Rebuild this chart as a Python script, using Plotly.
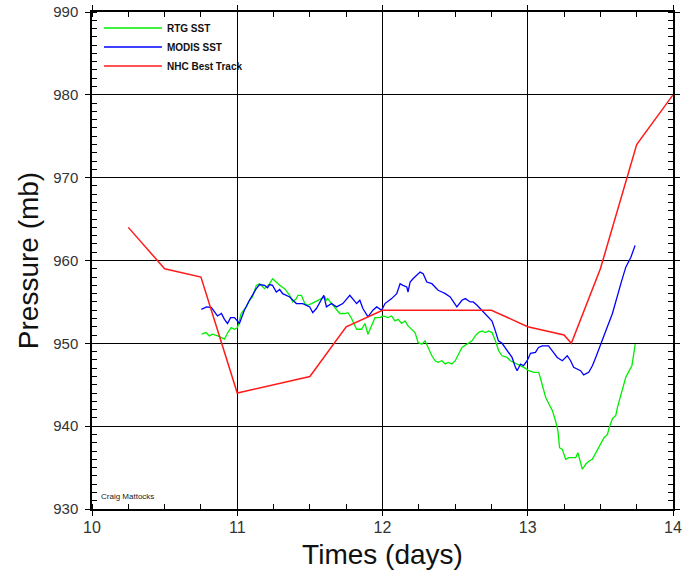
import plotly.graph_objects as go

# NHC Best Track
nhc_t = [10.25, 10.5, 10.75, 11.0, 11.5, 11.75, 12.0, 12.75, 13.0, 13.25, 13.3, 13.5, 13.75, 14.0]
nhc_p = [964, 959, 958, 944, 946, 952, 954, 954, 952, 951, 950, 959, 974, 980]

# MODIS SST
modis_t = [10.753, 10.788, 10.822, 10.843, 10.864, 10.891, 10.912, 10.933, 10.954, 10.981, 11.015, 11.049,
           11.084, 11.131, 11.154, 11.188, 11.209, 11.223, 11.243, 11.269, 11.292, 11.313, 11.361, 11.407,
           11.451, 11.499, 11.520, 11.545, 11.596, 11.614, 11.649, 11.683, 11.727, 11.775, 11.796, 11.822,
           11.844, 11.865, 11.900, 11.934, 11.960, 11.994, 12.017, 12.063, 12.098, 12.121, 12.141, 12.167,
           12.176, 12.190, 12.210, 12.236, 12.259, 12.280, 12.305, 12.340, 12.362, 12.383, 12.409, 12.432,
           12.466, 12.487, 12.512, 12.547, 12.570, 12.604, 12.625, 12.651, 12.685, 12.754, 12.777, 12.798,
           12.823, 12.846, 12.867, 12.892, 12.915, 12.927, 12.950, 12.971, 12.996, 13.019, 13.053, 13.074,
           13.100, 13.143, 13.169, 13.203, 13.238, 13.272, 13.295, 13.316, 13.364, 13.385, 13.420, 13.445,
           13.468, 13.503, 13.537, 13.583, 13.618, 13.641, 13.675, 13.710, 13.739]
modis_p = [954.1, 954.4, 954.3, 953.8, 953.3, 953.6, 952.9, 952.4, 953.1, 953.1, 952.4, 954.0,
           955.2, 956.6, 957.1, 957.0, 956.7, 957.1, 957.0, 956.2, 956.5, 956.0, 955.6, 954.8,
           954.8, 954.4, 953.7, 954.2, 955.8, 954.4, 954.8, 954.4, 954.8, 955.8, 955.4, 954.8,
           955.2, 954.2, 953.2, 954.0, 954.4, 954.0, 954.8, 955.4, 956.0, 957.2, 957.0, 956.8,
           956.2, 957.4, 957.8, 958.2, 958.6, 958.4, 957.4, 957.2, 956.8, 956.4, 956.2, 956.0,
           955.6, 955.0, 954.4, 955.2, 955.4, 955.0, 955.0, 954.6, 954.0, 952.7, 951.5, 950.3,
           950.0, 949.4, 948.8, 948.3, 947.1, 946.7, 947.5, 947.3, 947.9, 948.8, 948.9, 949.5,
           949.7, 949.7, 949.1, 948.3, 947.9, 948.5, 947.9, 947.1, 946.7, 946.2, 946.5, 947.3,
           948.3, 950.0, 951.5, 953.6, 955.6, 957.2, 959.2, 960.4, 961.8]

# RTG SST
rtg_t = [10.755, 10.785, 10.808, 10.829, 10.866, 10.889, 10.912, 10.935, 10.958, 10.981, 11.002, 11.027,
         11.062, 11.085, 11.105, 11.131, 11.154, 11.188, 11.223, 11.243, 11.269, 11.292, 11.326, 11.361,
         11.382, 11.407, 11.418, 11.442, 11.465, 11.485, 11.511, 11.534, 11.554, 11.580, 11.603, 11.614,
         11.623, 11.649, 11.683, 11.706, 11.741, 11.762, 11.787, 11.822, 11.856, 11.879, 11.900, 11.925,
         11.948, 11.983, 12.003, 12.038, 12.063, 12.086, 12.107, 12.132, 12.155, 12.176, 12.202, 12.224,
         12.245, 12.271, 12.293, 12.314, 12.340, 12.362, 12.383, 12.409, 12.432, 12.452, 12.478, 12.501,
         12.522, 12.547, 12.582, 12.616, 12.639, 12.660, 12.685, 12.708, 12.731, 12.754, 12.777, 12.800,
         12.823, 12.858, 12.881, 12.904, 12.927, 12.950, 12.973, 13.007, 13.042, 13.076, 13.100, 13.123,
         13.145, 13.169, 13.192, 13.208, 13.219, 13.238, 13.261, 13.283, 13.307, 13.330, 13.345, 13.376,
         13.399, 13.422, 13.445, 13.468, 13.502, 13.525, 13.549, 13.560, 13.583, 13.606, 13.618, 13.652,
         13.675, 13.699, 13.717, 13.726, 13.740]
rtg_p = [951.1, 951.3, 950.9, 951.1, 950.9, 950.7, 950.5, 951.3, 951.9, 951.7, 951.9, 953.6,
         954.4, 955.2, 955.6, 957.0, 957.2, 956.6, 957.2, 957.8, 957.4, 957.0, 956.6, 955.8,
         955.0, 955.4, 955.8, 955.8, 954.8, 954.6, 954.8, 955.0, 955.2, 955.4, 955.6, 955.2,
         955.4, 954.8, 954.0, 953.6, 953.6, 953.7, 953.0, 951.7, 951.7, 952.4, 951.1, 952.1,
         953.1, 953.1, 953.3, 953.1, 953.3, 952.7, 952.9, 952.4, 952.7, 952.1, 951.7, 951.3,
         950.1, 949.9, 950.3, 949.5, 948.5, 947.9, 947.7, 947.9, 947.5, 947.7, 947.5, 947.9,
         948.7, 949.5, 949.9, 950.3, 950.9, 951.3, 951.5, 951.3, 951.5, 951.3, 950.3, 949.1,
         948.5, 948.3, 947.9, 947.7, 947.5, 947.3, 947.1, 946.7, 946.5, 946.5, 945.1, 943.5,
         942.7, 941.9, 940.6, 939.4, 937.4, 937.2, 936.0, 936.2, 936.2, 936.2, 936.8, 934.8,
         935.4, 935.8, 936.0, 936.8, 937.8, 938.6, 939.0, 939.8, 940.9, 941.3, 942.3, 944.3,
         945.9, 946.7, 947.3, 948.3, 949.9]

x_ticks = [10, 11, 12, 13, 14]
y_ticks = [930, 940, 950, 960, 970, 980, 990]

FONT = "Liberation Sans, Arial, sans-serif"

fig = go.Figure()
fig.add_trace(go.Scatter(x=rtg_t, y=rtg_p, mode="lines", name="<b>RTG SST</b>",
                         line=dict(color="#00ee00", width=1.3)))
fig.add_trace(go.Scatter(x=modis_t, y=modis_p, mode="lines", name="<b>MODIS SST</b>",
                         line=dict(color="#0000ff", width=1.3)))
fig.add_trace(go.Scatter(x=nhc_t, y=nhc_p, mode="lines", name="<b>NHC Best Track</b>",
                         line=dict(color="#ff1a1a", width=1.5)))

fig.update_layout(
    width=685, height=572,
    margin=dict(l=92, r=12, t=12, b=63, autoexpand=False),
    paper_bgcolor="white", plot_bgcolor="white",
    font=dict(family=FONT, color="#222"),
    showlegend=True,
    legend=dict(x=0.012, y=0.997, xanchor="left", yanchor="top",
                bgcolor="rgba(0,0,0,0)", font=dict(size=10, color="#111"),
                tracegroupgap=0, itemwidth=58),
    annotations=[dict(text="Craig Mattocks", x=0.012, y=0.012, xref="paper", yref="paper",
                      xanchor="left", yanchor="bottom", showarrow=False,
                      font=dict(size=8, color="#222", family=FONT))],
)

fig.update_xaxes(
    range=[10, 14], tickvals=x_ticks, ticktext=[str(v) for v in x_ticks],
    showgrid=True, gridcolor="black", gridwidth=1,
    showline=True, linecolor="black", linewidth=1.5, mirror="allticks",
    ticks="outside", ticklen=5, tickcolor="black",
    minor=dict(dtick=0.25, ticks="inside", ticklen=5, tickcolor="black", showgrid=False),
    tickfont=dict(size=16, color="#333"), ticklabelstandoff=-2, ticklabeloverflow="allow",
    title=dict(text="Times (days)", font=dict(size=28, color="#111"), standoff=9),
    zeroline=False, automargin=False,
)
fig.update_yaxes(
    range=[930, 990], tickvals=y_ticks, ticktext=[str(v) for v in y_ticks],
    showgrid=True, gridcolor="black", gridwidth=1,
    showline=True, linecolor="black", linewidth=1.5, mirror="allticks",
    ticks="outside", ticklen=5, tickcolor="black",
    minor=dict(dtick=1, ticks="inside", ticklen=5, tickcolor="black", showgrid=False),
    tickfont=dict(size=15, color="#333"), ticklabelstandoff=4, ticklabeloverflow="allow",
    title=dict(text="Pressure (mb)", font=dict(size=28, color="#111"), standoff=6),
    zeroline=False, automargin=False,
)

fig.write_html("out.html", config={"displayModeBar": False},
               post_script="document.body.style.margin='0';")
